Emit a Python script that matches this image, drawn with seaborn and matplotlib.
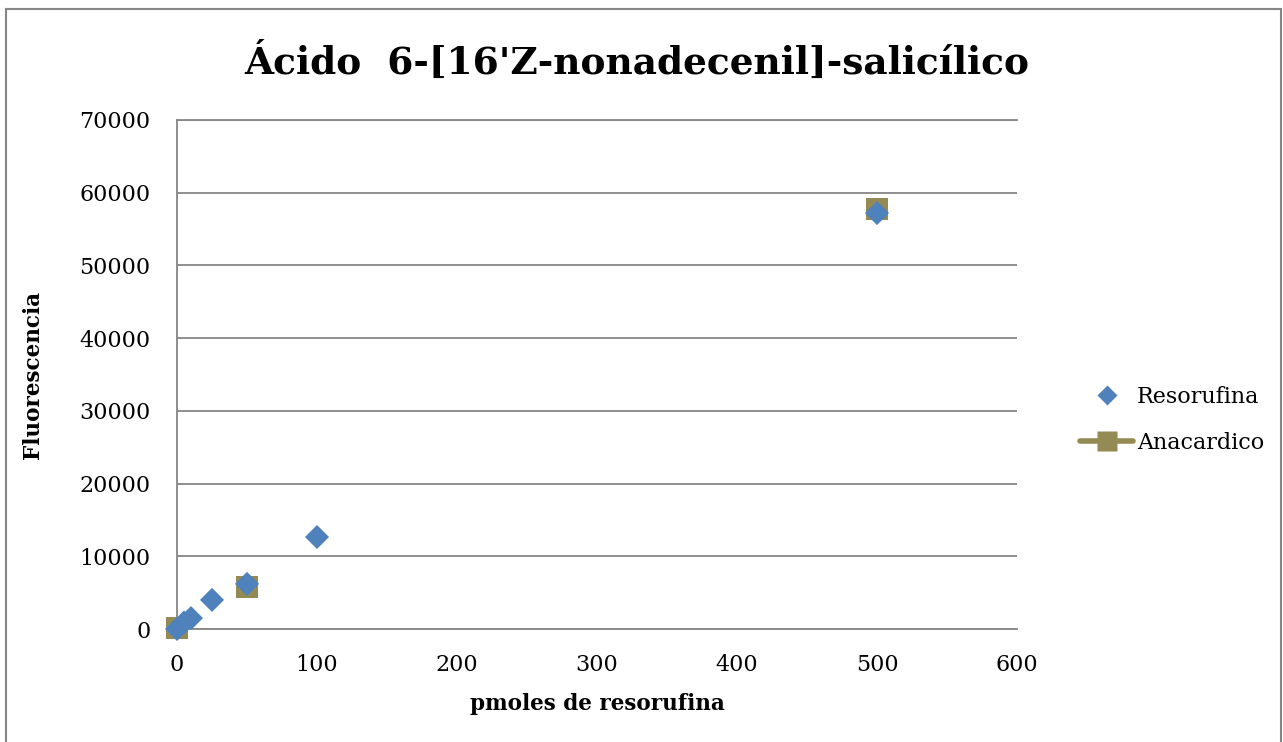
import matplotlib
matplotlib.use("Agg")
import matplotlib.pyplot as plt
from matplotlib.lines import Line2D
from matplotlib.patches import Rectangle
import seaborn as sns
import pandas as pd

# Calibration series: pmol of resorufin vs fluorescence
resorufina_x = [0, 5, 10, 25, 50, 100, 500]
resorufina_y = [0, 900, 1500, 4000, 6200, 12650, 57200]

# Anacardic acid series
anacardico_x = [0, 50, 500]
anacardico_y = [100, 5800, 57800]

x_ticks = [0, 100, 200, 300, 400, 500, 600]
y_ticks = [0, 10000, 20000, 30000, 40000, 50000, 60000, 70000]

sns.set_theme(style="white")
plt.rcParams["font.family"] = ["DejaVu Serif"]
plt.rcParams["text.color"] = "black"
plt.rcParams["axes.labelcolor"] = "black"
plt.rcParams["xtick.color"] = "black"
plt.rcParams["ytick.color"] = "black"

blue = "#4f81bd"
olive = "#948a54"
grid_gray = "#868686"

fig = plt.figure(figsize=(12.83, 7.42), dpi=100)
W, H = 1283, 742
ax = fig.add_axes([177 / W, 1 - 629 / H, (1017 - 177) / W, (629 - 120) / H])

df_a = pd.DataFrame({"x": anacardico_x, "y": anacardico_y})
df_r = pd.DataFrame({"x": resorufina_x, "y": resorufina_y})

sns.scatterplot(data=df_a, x="x", y="y", marker="s", s=260, color=olive,
                edgecolor="none", ax=ax, zorder=3, clip_on=False)
sns.scatterplot(data=df_r, x="x", y="y", marker="D", s=150, color=blue,
                edgecolor="none", ax=ax, zorder=4, clip_on=False)

ax.set_xlim(0, 600)
ax.set_ylim(0, 70000)
ax.set_xticks(x_ticks)
ax.set_yticks(y_ticks)
ax.set_xticklabels([str(v) for v in x_ticks], fontsize=16)
ax.set_yticklabels([str(v) for v in y_ticks], fontsize=16)
ax.tick_params(axis="y", length=0, pad=19)
ax.tick_params(axis="x", length=0, pad=18)
ax.yaxis.grid(True, color=grid_gray, linewidth=1.3)
ax.set_axisbelow(True)
ax.spines["right"].set_visible(False)
for side in ["left", "bottom", "top"]:
    ax.spines[side].set_color(grid_gray)
    ax.spines[side].set_linewidth(1.3)
    ax.spines[side].set_zorder(0.5)

ax.set_xlabel("pmoles de resorufina", fontsize=15.5, fontweight="bold", labelpad=12)
ax.set_ylabel("Fluorescencia", fontsize=15.5, fontweight="bold")
ax.yaxis.set_label_coords(-(177 - 44) / (1017 - 177), 0.5)

fig.text(637 / W, 1 - 62 / H, "Ácido  6-[16'Z-nonadecenil]-salicílico",
         ha="center", va="center", fontsize=27, fontweight="bold")

handles = [
    Line2D([], [], color=blue, marker="D", linestyle="none", markersize=10,
           markeredgecolor="none"),
    Line2D([], [], color=olive, marker="s", linestyle="-", linewidth=4,
           markersize=14, markeredgecolor="none", solid_capstyle="round"),
]
fig.legend(handles, ["Resorufina", "Anacardico"], loc="center left",
           bbox_to_anchor=(1060 / W, 1 - 420 / H), frameon=False, fontsize=16,
           handlelength=2.4, handletextpad=0.15, labelspacing=1.1)

fig.patches.append(Rectangle((6 / W, -0.01), (1281 - 6) / W, 1 - 9 / H + 0.01,
                             transform=fig.transFigure, fill=False,
                             edgecolor=grid_gray, linewidth=1.5))

fig.savefig("out.png", dpi=100, facecolor="white")
